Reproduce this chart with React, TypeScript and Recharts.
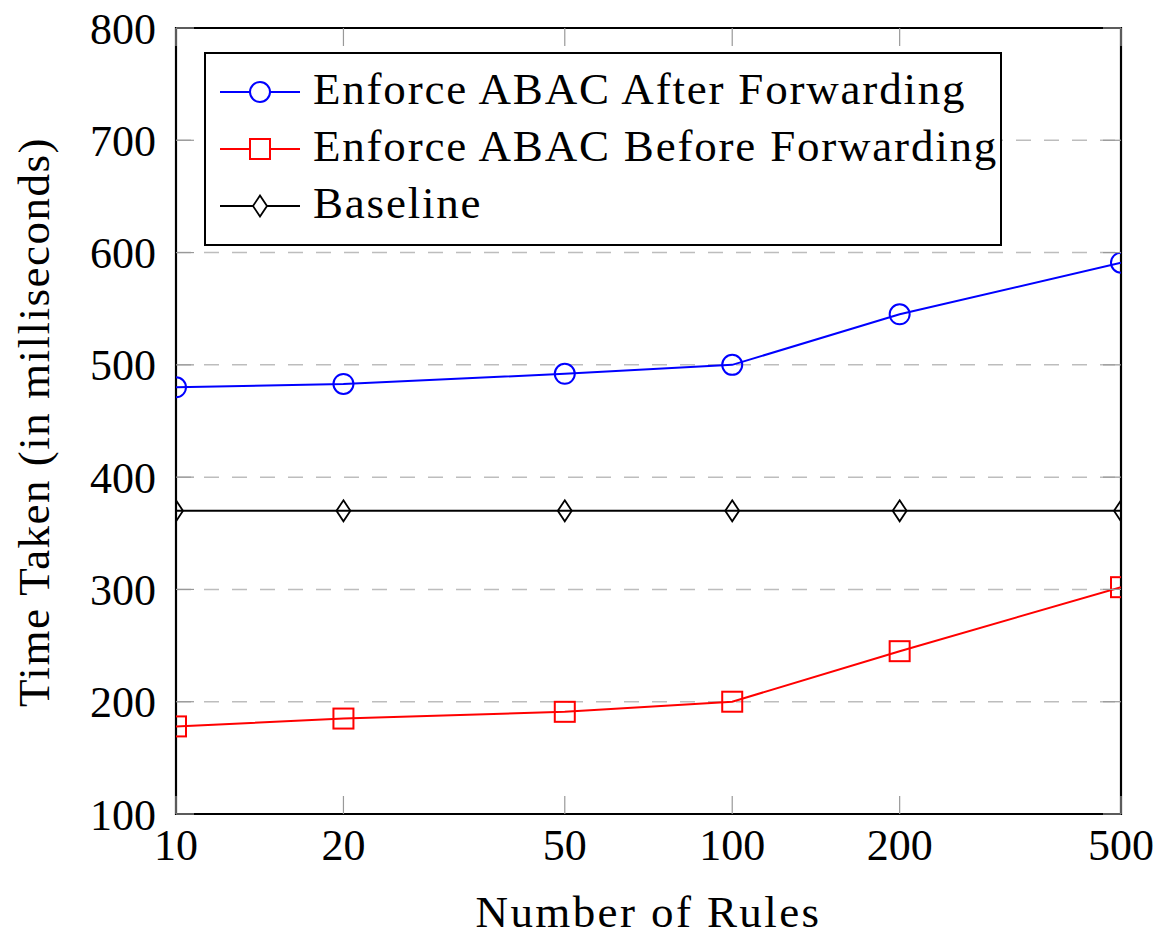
import { LineChart, Line, XAxis, YAxis, CartesianGrid, Legend, ReferenceArea } from 'recharts';

const rules = [10, 20, 50, 100, 200, 500];
const afterForwarding = [480, 483, 492, 500, 545, 591];
const beforeForwarding = [178, 185, 191, 200, 245, 302];
const baseline = [370, 370, 370, 370, 370, 370];
const yTicks = [100, 200, 300, 400, 500, 600, 700, 800];

const data = rules.map((r, i) => ({
    rules: r,
    after: afterForwarding[i],
    before: beforeForwarding[i],
    base: baseline[i],
}));

const FONT = '"Liberation Serif", "Times New Roman", serif';
const W = 1160;
const H = 927;
const margin = { top: 20, right: 47, left: 0, bottom: 0 };
const plotTop = margin.top;
const plotRight = W - margin.right;
const TICK_LEN = 18;
const X_TICK_GAP = 15;
const Y_TICK_GAP = 20;

const CircleDot = ({ cx, cy }) => <circle cx={cx} cy={cy} r={10} fill="none" stroke="#0000ff" strokeWidth={2} />;
const SquareDot = ({ cx, cy }) => <rect x={cx - 10} y={cy - 10} width={20} height={20} fill="none" stroke="#ff0000" strokeWidth={2} />;
const DiamondDot = ({ cx, cy }) => (
    <path d={`M${cx},${cy - 10.5} L${cx + 7},${cy} L${cx},${cy + 10.5} L${cx - 7},${cy} Z`} fill="none" stroke="#000" strokeWidth={1.8} />
);

const XTick = ({ x, y, payload }) => (
    <g>
        <line x1={x} x2={x} y1={y - X_TICK_GAP} y2={y - X_TICK_GAP - TICK_LEN} stroke="#999" strokeWidth={1.2} />
        <line x1={x} x2={x} y1={plotTop} y2={plotTop + TICK_LEN} stroke="#999" strokeWidth={1.2} />
        <text x={x} y={y} dy="0.71em" textAnchor="middle" fontSize={44} fontFamily={FONT} fill="#000">
            {payload.value}
        </text>
    </g>
);

const YTick = ({ x, y, payload }) => (
    <g>
        <line x1={x + Y_TICK_GAP} x2={x + Y_TICK_GAP + TICK_LEN} y1={y} y2={y} stroke="#999" strokeWidth={1.2} />
        <line x1={plotRight - TICK_LEN} x2={plotRight} y1={y} y2={y} stroke="#999" strokeWidth={1.2} />
        <text x={x} y={y} dy="0.355em" textAnchor="end" fontSize={44} fontFamily={FONT} fill="#000">
            {payload.value}
        </text>
    </g>
);

const legendItems = [
    { name: 'Enforce ABAC After Forwarding', color: '#0000ff', kind: 'circle' },
    { name: 'Enforce ABAC Before Forwarding', color: '#ff0000', kind: 'square' },
    { name: 'Baseline', color: '#000', kind: 'diamond' },
];

const LEGEND_W = 798;

const LegendBox = () => (
    <div
        style={{
            border: '2px solid #000',
            background: '#fff',
            boxSizing: 'border-box',
            width: LEGEND_W,
            height: 194,
            padding: '6px 0 0 14px',
            fontFamily: FONT,
            fontSize: 45,
            letterSpacing: 1.8,
        }}
    >
        {legendItems.map((it) => (
            <div key={it.name} style={{ display: 'flex', alignItems: 'center', height: 57 }}>
                <svg width={80} height={24} style={{ flexShrink: 0, marginRight: 13, position: 'relative', top: 3 }}>
                    <line x1={0} x2={80} y1={12} y2={12} stroke={it.color} strokeWidth={2} />
                    {it.kind === 'circle' && <circle cx={40} cy={12} r={10} fill="#fff" stroke={it.color} strokeWidth={2} />}
                    {it.kind === 'square' && <rect x={30} y={2} width={20} height={20} fill="#fff" stroke={it.color} strokeWidth={2} />}
                    {it.kind === 'diamond' && <path d="M40,1.5 L47,12 L40,22.5 L33,12 Z" fill="#fff" stroke={it.color} strokeWidth={1.8} />}
                </svg>
                <span style={{ color: '#000', whiteSpace: 'nowrap' }}>{it.name}</span>
            </div>
        ))}
    </div>
);

export default function App() {
    return (
        <LineChart width={W} height={H} data={data} margin={margin} style={{ overflow: 'visible' }}>
            <CartesianGrid horizontal vertical={false} stroke="#bdbdbd" strokeDasharray="15 13" strokeWidth={1.5} />
            <XAxis
                dataKey="rules"
                type="number"
                scale="log"
                domain={[10, 500]}
                ticks={rules}
                allowDataOverflow
                height={H - 806}
                tickSize={0}
                tickMargin={X_TICK_GAP}
                axisLine={false}
                tickLine={false}
                tick={XTick}
                interval={0}
                label={{
                    content: ({ viewBox }) => (
                        <text x={viewBox.x + viewBox.width / 2} y={viewBox.y + 97} dy="0.35em" textAnchor="middle" fontSize={45} letterSpacing={2.4} fontFamily={FONT} fill="#000">
                            Number of Rules
                        </text>
                    ),
                }}
            />
            <YAxis
                type="number"
                domain={[100, 800]}
                ticks={yTicks}
                width={168}
                tickSize={0}
                tickMargin={Y_TICK_GAP}
                axisLine={false}
                tickLine={false}
                tick={YTick}
                interval={0}
                label={{
                    content: () => {
                        const cx = 25;
                        const cy = 414;
                        return (
                            <text x={cx} y={cy} dy="0.35em" textAnchor="middle" fontSize={45} letterSpacing={1.5} fontFamily={FONT} fill="#000" transform={`rotate(-90 ${cx} ${cy})`}>
                                Time Taken (in milliseconds)
                            </text>
                        );
                    },
                }}
            />
            <ReferenceArea x1={10} x2={500} y1={100} y2={800} fill="none" stroke="#000" strokeWidth={2.2} ifOverflow="visible" />
            <Line dataKey="base" stroke="#000" strokeWidth={2} dot={DiamondDot} isAnimationActive={false} />
            <Line dataKey="before" stroke="#ff0000" strokeWidth={2} dot={SquareDot} isAnimationActive={false} />
            <Line dataKey="after" stroke="#0000ff" strokeWidth={2} dot={CircleDot} isAnimationActive={false} />
            <Legend
                layout="vertical"
                align="center"
                verticalAlign="middle"
                content={LegendBox}
                wrapperStyle={{ position: 'absolute', left: 196, top: 44, width: LEGEND_W, height: 194 }}
            />
        </LineChart>
    );
}
